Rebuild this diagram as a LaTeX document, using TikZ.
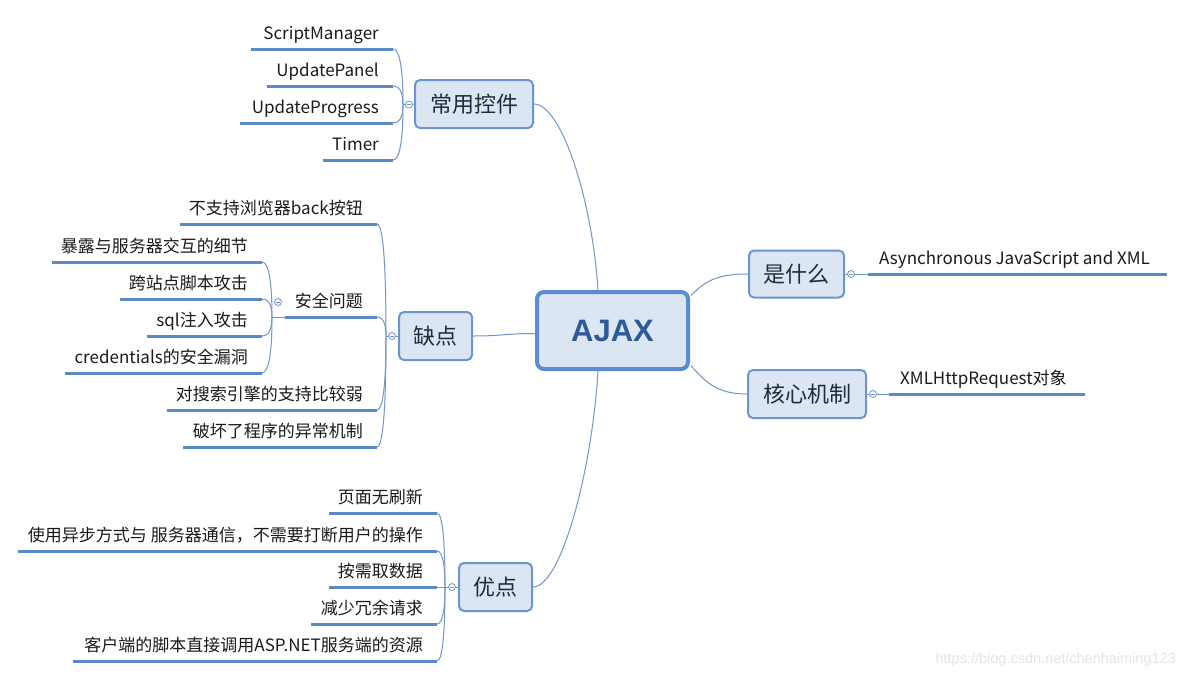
\documentclass[tikz,border=0pt]{standalone}
\usepackage{fontspec}
\setmainfont{Noto Sans CJK SC}
\newfontfamily\ajaxfont{Liberation Sans}[BoldFont={Liberation Sans Bold}]
\newfontfamily\wmfont{Liberation Sans}
\usetikzlibrary{calc}
\definecolor{ubl}{HTML}{5A8AC6}
\definecolor{cbl}{HTML}{7096CA}
\definecolor{bbl}{HTML}{6B95CE}
\definecolor{abl}{HTML}{5B8BD4}
\definecolor{fbl}{HTML}{DCE6F2}
\definecolor{ttx}{HTML}{1E2B3C}
\definecolor{atx}{HTML}{2D5A98}
\definecolor{ltx}{HTML}{1A1A1A}
\tikzset{
 uline/.style={draw=ubl, line width=3pt},
 conn/.style={draw=cbl, line width=1pt},
 topic/.style={draw=bbl, line width=2pt, fill=fbl, rounded corners=5pt, inner sep=0pt, text=ttx, font=\fontsize{22}{26}\selectfont, minimum height=48pt},
 central/.style={draw=abl, line width=4pt, fill=fbl, rounded corners=7pt, minimum width=151pt, minimum height=77pt, text=atx, font=\ajaxfont\bfseries\fontsize{31}{36}\selectfont},
 leaf/.style={inner sep=0pt, text=ltx, font=\fontsize{17}{20}\selectfont},
 colmark/.style={circle, draw=cbl, line width=0.8pt, fill=white, minimum size=7pt, inner sep=0pt,
   path picture={\draw[cbl, line width=0.8pt] ([xshift=-2pt]path picture bounding box.center) -- ([xshift=2pt]path picture bounding box.center);}},
}
\newcommand\mmlink[2]{\draw[conn] let \p1=(#1), \p2=(#2) in (\p2) .. controls ({\x2+0.8*(\x1-\x2)},\y2) and (\x1,{\y2+0.5*(\y1-\y2)}) .. (\p1);}
\newcommand\lleaf[5]{%
 \coordinate (#1s) at (#2,#4);
 \coordinate (#1e) at (#3,#4);
 \draw[uline] (#1s) -- (#1e);
 \node[leaf, anchor=base east] (#1) at ({#3-14},{#4-10}) {#5};}
\newcommand\rleaf[5]{%
 \coordinate (#1s) at (#2,#4);
 \coordinate (#1e) at (#3,#4);
 \draw[uline] (#1s) -- (#1e);
 \node[leaf, anchor=base west] (#1) at ({#2+11},{#4-10}) {#5};}
\begin{document}
\begin{tikzpicture}[x=1pt, y=-1pt]
\useasboundingbox[fill=white] (0,0) rectangle (1185,678);

% topics
\node[central] (ajax) at (612.5,330.5) {AJAX};
\node[topic, minimum width=118pt] (cy) at (474,104) {常用控件};
\node[topic, minimum width=73pt] (qd) at (435.5,336) {缺点};
\node[topic, minimum width=73pt] (yd) at (495.5,587) {优点};
\node[topic, minimum width=95pt, minimum height=47pt] (sm) at (796.5,274) {是什么};
\node[topic, minimum width=118pt] (hx) at (807,394) {核心机制};

% central connectors
\draw[conn] (cy.east) .. controls +(27,0) and +(-6,-92) .. ($(ajax.north)+(-14.5,0)$);
\draw[conn] (qd.east) .. controls +(30,0) and +(-30,0) .. ($(ajax.west)+(0,3)$);
\draw[conn] (yd.east) .. controls +(28,0) and +(-6,100) .. ($(ajax.south)+(-14.5,0)$);
\draw[conn] ($(ajax.east)+(1,-35)$) .. controls +(15,-16) and +(-28,0) .. (sm.west);
\draw[conn] ($(ajax.east)+(1,35)$) .. controls +(15,18) and +(-28,0) .. (hx.west);

% 常用控件
\coordinate (p1) at (403,104.5);
\draw[conn] (cy.west) -- (p1);
\lleaf{a1}{251}{393}{49}{ScriptManager}
\lleaf{a2}{267}{393}{86}{UpdatePanel}
\lleaf{a3}{240}{393}{123}{UpdateProgress}
\lleaf{a4}{323}{393}{160}{Timer}
\foreach \q in {a1,a2,a3,a4} {\mmlink{p1}{\q e}}

% 缺点
\coordinate (p2) at (386,336);
\draw[conn] (qd.west) -- (p2);
\lleaf{b1}{180}{377}{224}{不支持浏览器back按钮}
\lleaf{b2}{285}{377}{317}{安全问题}
\lleaf{b3}{167}{377}{410}{对搜索引擎的支持比较弱}
\lleaf{b4}{183}{377}{447}{破坏了程序的异常机制}
\foreach \q in {b1,b2,b3,b4} {\mmlink{p2}{\q e}}

% 安全问题
\coordinate (p3) at (272,317);
\draw[conn] (b2s) -- (p3);
\lleaf{c1}{52}{262}{262}{暴露与服务器交互的细节}
\lleaf{c2}{120}{262}{299}{跨站点脚本攻击}
\lleaf{c3}{147}{262}{336}{sql注入攻击}
\lleaf{c4}{65}{262}{373}{credentials的安全漏洞}
\foreach \q in {c1,c2,c3,c4} {\mmlink{p3}{\q e}}

% 优点
\coordinate (p4) at (445,587);
\draw[conn] (yd.west) -- (p4);
\lleaf{d1}{329}{437}{513}{页面无刷新}
\lleaf{d2}{18}{437}{551}{使用异步方式与 服务器通信，不需要打断用户的操作}
\lleaf{d3}{329}{437}{587}{按需取数据}
\lleaf{d4}{311}{437}{624}{减少冗余请求}
\lleaf{d5}{73}{437}{661}{客户端的脚本直接调用ASP.NET服务端的资源}
\foreach \q in {d1,d2,d3,d4,d5} {\mmlink{p4}{\q e}}

% right side
\rleaf{e1}{868}{1167}{274}{Asynchronous JavaScript and XML}
\draw[conn] (sm.east) -- (e1s);
\rleaf{f1}{889}{1085}{394}{XMLHttpRequest对象}
\draw[conn] (hx.east) -- (f1s);

% collapse markers
\node[colmark] (m1) at (409,104.5) {};
\node[colmark] (m2) at (392,336) {};
\node[colmark] (m3) at (278,302) {};
\node[colmark] (m4) at (452,587) {};
\node[colmark] (m5) at (851,274) {};
\node[colmark] (m6) at (873,394) {};

% watermark
\node[anchor=east, inner sep=0pt, text=black!10, font=\wmfont\fontsize{14.5}{16}\selectfont] (wm) at (1176,660) {https://blog.csdn.net/chenhaiming123};
\end{tikzpicture}
\end{document}
